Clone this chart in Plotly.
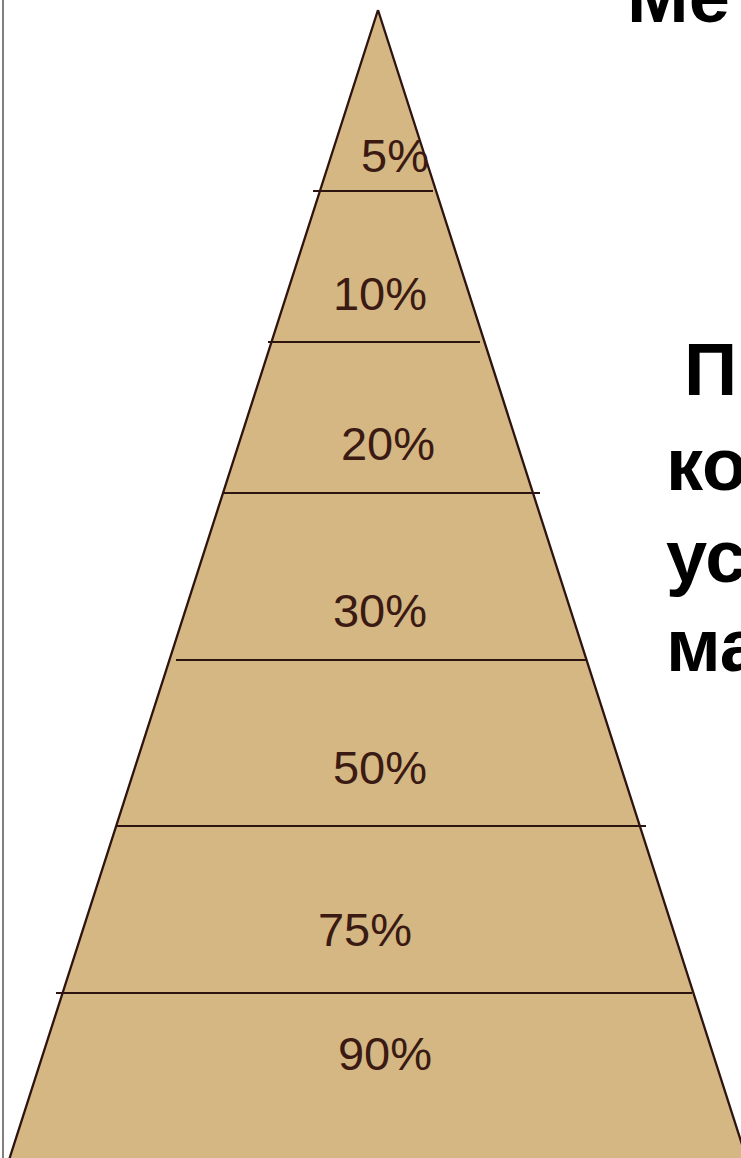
import plotly.graph_objects as go

# Pyramid levels (top to bottom)
labels = ["5%", "10%", "20%", "30%", "50%", "75%", "90%"]
label_x = [395, 380, 388, 380, 380, 365, 385]
label_y = [160, 298, 448, 615, 772, 934, 1058]

# Divider lines between levels
divider_y = [191, 342, 493, 660, 826, 993]
divider_left = [313, 268, 222, 176, 117, 56]
divider_right = [433, 480, 540, 586, 646, 692]

# Triangle outline (apex, bottom-right, bottom-left)
tri_x = [378, 747, 9, 378]
tri_y = [10, 1160, 1160, 10]

# Partially visible side text
side_text = ["Ме", "П", "ко", "ус", "ма"]
side_x = [625, 682, 664, 664, 664]
side_y = [40, 369, 464, 556, 645]
side_anchor = ["bottom", "middle", "middle", "middle", "middle"]

W, H = 741, 1158
FILL = "#d4b783"
EDGE = "#2e1410"
TXT = "#3a1a12"

fig = go.Figure()
fig.add_trace(go.Scatter(x=tri_x, y=tri_y, mode="lines", fill="toself",
                         fillcolor=FILL, line=dict(color=EDGE, width=2.3),
                         hoverinfo="skip", showlegend=False))
for yv, xl, xr in zip(divider_y, divider_left, divider_right):
    fig.add_trace(go.Scatter(x=[xl, xr], y=[yv, yv], mode="lines",
                             line=dict(color=EDGE, width=2),
                             hoverinfo="skip", showlegend=False))
fig.add_trace(go.Scatter(x=label_x, y=label_y, mode="text", text=labels,
                         textfont=dict(family="Liberation Sans, Arial", size=47, color=TXT),
                         textposition="middle center", hoverinfo="skip", showlegend=False))
# left vertical grey rule
fig.add_trace(go.Scatter(x=[3, 3], y=[0, H], mode="lines",
                         line=dict(color="#808080", width=2),
                         hoverinfo="skip", showlegend=False))

for t, xv, yv, ya in zip(side_text, side_x, side_y, side_anchor):
    fig.add_annotation(x=xv, y=yv, text="<b>%s</b>" % t, showarrow=False,
                       xanchor="left", yanchor=ya,
                       font=dict(family="Liberation Sans, Arial", size=74, color="#000000"))

fig.update_layout(width=W, height=H, margin=dict(l=0, r=0, t=0, b=0),
                  paper_bgcolor="white", plot_bgcolor="white",
                  xaxis=dict(range=[0, W], visible=False, fixedrange=True),
                  yaxis=dict(range=[H, 0], visible=False, fixedrange=True),
                  showlegend=False)
fig.write_html("out.html", config={"displayModeBar": False, "staticPlot": True},
               post_script="document.body.style.margin='0';document.body.style.overflow='hidden';")
